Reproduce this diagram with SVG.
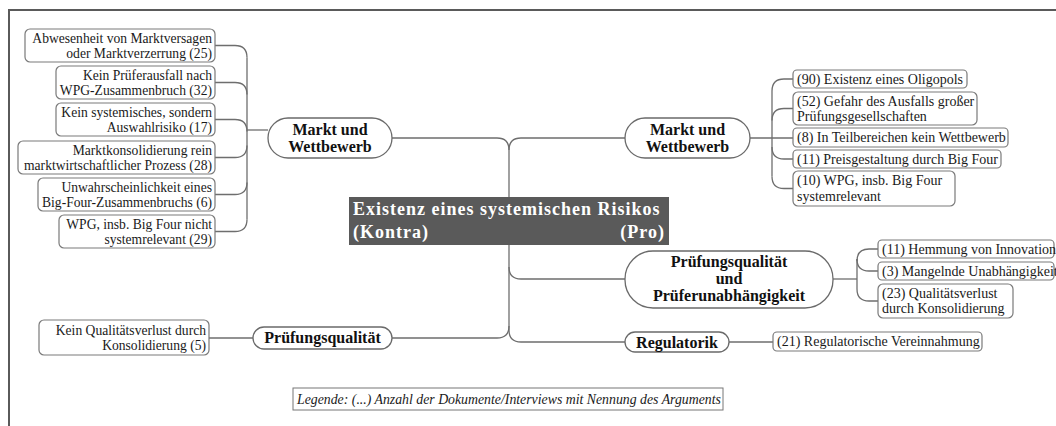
<svg xmlns="http://www.w3.org/2000/svg" width="1056" height="426" viewBox="0 0 1056 426">
  <style>
    text { font-family: "Liberation Serif", "Times New Roman", serif; fill: #1a1a1a; }
    .box { fill: #ffffff; stroke: #7a7a7a; stroke-width: 1.2; }
    .node { fill: #ffffff; stroke: #6a6a6a; stroke-width: 1.3; }
    .item { font-size: 14px; }
    .r { text-anchor: end; font-size: 13.6px; }
    .topic { font-size: 16px; font-weight: bold; text-anchor: middle; fill: #111; }
    .title { font-size: 18px; font-weight: bold; fill: #ffffff; letter-spacing: 1px; }
    .link { fill: none; stroke: #6e6e6e; stroke-width: 1.3; }
    .legend { font-size: 13.8px; font-style: italic; }
  </style>

  <!-- outer frame (top and left edge) -->
  <path d="M9,426 V10 H1056" fill="none" stroke="#5a5a5a" stroke-width="2"/>

  <!-- connectors -->
  <g id="connectors" class="link">
    <!-- central trunk -->
    <path d="M509,150 V330"/>
    <path d="M392,138 H497 Q509,138 509,150"/>
    <path d="M509,150 Q509,138 521,138 H625"/>
    <path d="M509,267 Q509,279 521,279 H625"/>
    <path d="M392,338 H497 Q509,338 509,326"/>
    <path d="M509,330 Q509,342 521,342 H625"/>
    <!-- left: Markt und Wettbewerb -->
    <path d="M247,130 H268"/>
    <path d="M247,57.5 V219.5"/>
    <path d="M215,45.5 H235 Q247,45.5 247,57.5"/>
    <path d="M215,82.5 H235 Q247,82.5 247,94.5"/>
    <path d="M215,119.5 H235 Q247,119.5 247,131.5"/>
    <path d="M215,157.5 H235 Q247,157.5 247,145.5"/>
    <path d="M215,194.5 H235 Q247,194.5 247,182.5"/>
    <path d="M215,231.5 H235 Q247,231.5 247,219.5"/>
    <!-- right: Markt und Wettbewerb -->
    <path d="M750,138 H793"/>
    <path d="M772,91 V176.5"/>
    <path d="M772,91 Q772,79 784,79 H793"/>
    <path d="M772,120.5 Q772,108.5 784,108.5 H793"/>
    <path d="M772,147 Q772,159 784,159 H793"/>
    <path d="M772,176.5 Q772,188.5 784,188.5 H793"/>
    <!-- right: Prüfungsqualität und Prüferunabhängigkeit -->
    <path d="M833,279 H857"/>
    <path d="M857,259 V289"/>
    <path d="M857,261 Q857,249 869,249 H878"/>
    <path d="M857,259 Q857,271 869,271 H878"/>
    <path d="M857,289 Q857,301 869,301 H878"/>
    <!-- left: Prüfungsqualität -->
    <path d="M209,338 H253"/>
    <!-- right: Regulatorik -->
    <path d="M729,342 H773"/>
  </g>

  <!-- central topic -->
  <g id="central">
    <rect x="349" y="197" width="320" height="48" fill="#5a5a5a"/>
    <text class="title" x="353" y="215">Existenz eines systemischen Risikos</text>
    <text class="title" x="353" y="238">(Kontra)</text>
    <text class="title" x="665" y="238" text-anchor="end">(Pro)</text>
  </g>

  <!-- main topics -->
  <g id="topic-markt-kontra">
    <rect class="node" x="268" y="118" width="124" height="40" rx="20"/>
    <text class="topic" x="330" y="135">Markt und</text>
    <text class="topic" x="330" y="152">Wettbewerb</text>
  </g>
  <g id="topic-markt-pro">
    <rect class="node" x="625" y="118" width="125" height="40" rx="20"/>
    <text class="topic" x="687.5" y="135">Markt und</text>
    <text class="topic" x="687.5" y="152">Wettbewerb</text>
  </g>
  <g id="topic-pruefung-pro">
    <rect class="node" x="625" y="251" width="208" height="57" rx="28"/>
    <text class="topic" x="729" y="267">Prüfungsqualität</text>
    <text class="topic" x="729" y="284">und</text>
    <text class="topic" x="729" y="301">Prüferunabhängigkeit</text>
  </g>
  <g id="topic-pruefung-kontra">
    <rect class="node" x="253" y="327" width="139" height="22" rx="11"/>
    <text class="topic" x="322.5" y="343">Prüfungsqualität</text>
  </g>
  <g id="topic-regulatorik">
    <rect class="node" x="625" y="332" width="104" height="20" rx="10"/>
    <text class="topic" x="677" y="347.5">Regulatorik</text>
  </g>

  <!-- Kontra arguments -->
  <g id="k-marktversagen">
    <rect class="box" x="25" y="29" width="190" height="33" rx="5"/>
    <text class="item r" x="212" y="42.5">Abwesenheit von Marktversagen</text>
    <text class="item r" x="212" y="57.5">oder Marktverzerrung (25)</text>
  </g>
  <g id="k-prueferausfall">
    <rect class="box" x="56" y="66" width="159" height="33" rx="5"/>
    <text class="item r" x="212" y="79.5">Kein Prüferausfall nach</text>
    <text class="item r" x="212" y="94.5">WPG-Zusammenbruch (32)</text>
  </g>
  <g id="k-auswahlrisiko">
    <rect class="box" x="56" y="103" width="159" height="33" rx="5"/>
    <text class="item r" x="212" y="116.5">Kein systemisches, sondern</text>
    <text class="item r" x="212" y="131.5">Auswahlrisiko (17)</text>
  </g>
  <g id="k-konsolidierung">
    <rect class="box" x="18" y="141" width="197" height="33" rx="5"/>
    <text class="item r" x="212" y="154.5">Marktkonsolidierung rein</text>
    <text class="item r" x="212" y="169.5">marktwirtschaftlicher Prozess (28)</text>
  </g>
  <g id="k-zusammenbruch">
    <rect class="box" x="38" y="178" width="177" height="33" rx="5"/>
    <text class="item r" x="212" y="191.5">Unwahrscheinlichkeit eines</text>
    <text class="item r" x="212" y="206.5">Big-Four-Zusammenbruchs (6)</text>
  </g>
  <g id="k-systemrelevanz">
    <rect class="box" x="59" y="215" width="156" height="33" rx="5"/>
    <text class="item r" x="212" y="228.5">WPG, insb. Big Four nicht</text>
    <text class="item r" x="212" y="243.5">systemrelevant (29)</text>
  </g>
  <g id="k-qualitaet">
    <rect class="box" x="39" y="320" width="170" height="35" rx="5"/>
    <text class="item r" x="206" y="334.5">Kein Qualitätsverlust durch</text>
    <text class="item r" x="206" y="350">Konsolidierung (5)</text>
  </g>

  <!-- Pro arguments -->
  <g id="p-oligopol">
    <rect class="box" x="793" y="70" width="174" height="18" rx="4"/>
    <text class="item" x="797" y="84">(90) Existenz eines Oligopols</text>
  </g>
  <g id="p-ausfall">
    <rect class="box" x="793" y="92" width="184" height="33" rx="5"/>
    <text class="item" x="797" y="105.5">(52) Gefahr des Ausfalls großer</text>
    <text class="item" x="797" y="120.5">Prüfungsgesellschaften</text>
  </g>
  <g id="p-wettbewerb">
    <rect class="box" x="793" y="128" width="215" height="19" rx="4"/>
    <text class="item" x="797" y="142">(8) In Teilbereichen kein Wettbewerb</text>
  </g>
  <g id="p-preis">
    <rect class="box" x="793" y="150" width="208" height="18" rx="4"/>
    <text class="item" x="797" y="164">(11) Preisgestaltung durch Big Four</text>
  </g>
  <g id="p-systemrelevanz">
    <rect class="box" x="793" y="171" width="162" height="35" rx="5"/>
    <text class="item" x="797" y="185">(10) WPG, insb. Big Four</text>
    <text class="item" x="797" y="200.5">systemrelevant</text>
  </g>
  <g id="p-innovation">
    <rect class="box" x="878" y="240" width="176" height="18" rx="4"/>
    <text class="item" x="882" y="254">(11) Hemmung von Innovation</text>
  </g>
  <g id="p-unabhaengigkeit">
    <rect class="box" x="878" y="262" width="176" height="18" rx="4"/>
    <text class="item" x="882" y="276">(3) Mangelnde Unabhängigkeit</text>
  </g>
  <g id="p-qualitaet">
    <rect class="box" x="878" y="284" width="135" height="34" rx="5"/>
    <text class="item" x="882" y="297.5">(23) Qualitätsverlust</text>
    <text class="item" x="882" y="313">durch Konsolidierung</text>
  </g>
  <g id="p-vereinnahmung">
    <rect class="box" x="773" y="332" width="209" height="19" rx="4"/>
    <text class="item" x="777" y="346">(21) Regulatorische Vereinnahmung</text>
  </g>

  <!-- legend -->
  <g id="legend">
    <rect x="293" y="388" width="430" height="22" fill="#ffffff" stroke="#777" stroke-width="1"/>
    <text class="legend" x="297" y="404">Legende: (...) Anzahl der Dokumente/Interviews mit Nennung des Arguments</text>
  </g>
</svg>
